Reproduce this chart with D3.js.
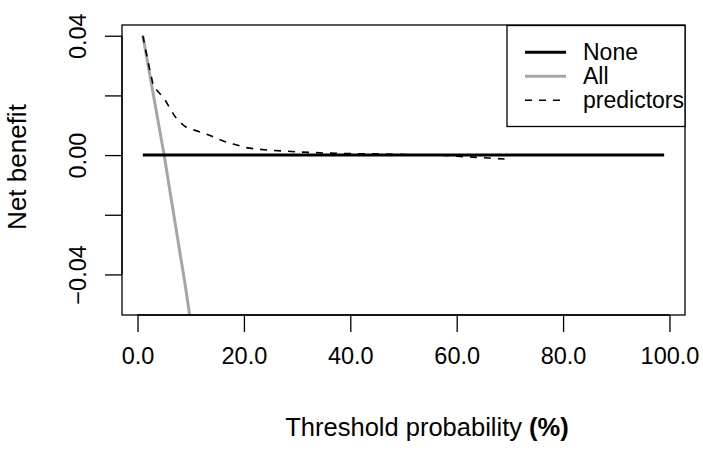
<!DOCTYPE html>
<html>
<head>
<meta charset="utf-8">
<script src="https://cdn.jsdelivr.net/npm/d3@7"></script>
<style>
  body { margin: 0; background: #fff; }
  svg { display: block; font-family: "Liberation Sans", Arial, sans-serif; }
</style>
</head>
<body>
<svg id="chart" width="703" height="456"></svg>
<script>
// thresholds (%) and net benefit values
const noneX = [1, 99];
const noneY = [0, 0];

const allX = [1, 2, 3, 4, 5, 6, 7, 8, 9, 10];
const allY = [0.040, 0.030, 0.020, 0.010, 0.000, -0.011, -0.022, -0.033, -0.044, -0.056];

const predX = [1, 2, 3, 4, 5, 6, 7, 8, 9, 10, 11, 12, 13, 14, 15, 16, 17, 18, 19, 20,
               22, 25, 28, 31, 35, 40, 45, 50, 55, 58, 60, 63, 66, 69];
const predY = [0.040, 0.031, 0.023, 0.021, 0.019, 0.016, 0.013, 0.011, 0.0095, 0.0088,
               0.0082, 0.0076, 0.0070, 0.0063, 0.0055, 0.0048, 0.0042, 0.0037, 0.0032, 0.0026,
               0.0021, 0.0016, 0.0013, 0.0010, 0.0007, 0.0005, 0.0004, 0.0002, 0.0000, -0.0001,
               -0.0004, -0.0007, -0.0010, -0.0013];

const xTicks = [0, 20, 40, 60, 80, 100];
const yTicks = [-0.04, -0.02, 0, 0.02, 0.04];
const yLabelled = [-0.04, 0, 0.04];

const legendNames = ["None", "All", "predictors"];

const svg = d3.select("#chart");
const box = { left: 122, right: 685, top: 25, bottom: 315 };

// R style 4% padding on the ranges
const x = d3.scaleLinear().domain([1 - 3.92, 99 + 3.92]).range([box.left, box.right]);
const y = d3.scaleLinear().domain([-0.05 - 0.0036, 0.04 + 0.0036]).range([box.bottom, box.top]);

svg.append("defs").append("clipPath").attr("id", "plotclip")
  .append("rect")
    .attr("x", box.left).attr("y", box.top)
    .attr("width", box.right - box.left).attr("height", box.bottom - box.top);

const line = d3.line().x(d => x(d[0])).y(d => y(d[1]));
const plot = svg.append("g").attr("clip-path", "url(#plotclip)");

const series = [
  { name: "None", pts: d3.zip(noneX, noneY), color: "#000", width: 3, dash: null },
  { name: "All", pts: d3.zip(allX, allY), color: "#a6a6a6", width: 3, dash: null },
  { name: "predictors", pts: d3.zip(predX, predY), color: "#000", width: 1.6, dash: "7,7" }
];

// draw order: all, none, predictors on top
[series[1], series[0], series[2]].forEach(s => {
  plot.append("path")
    .attr("d", line(s.pts))
    .attr("fill", "none")
    .attr("stroke", s.color)
    .attr("stroke-width", s.width)
    .attr("stroke-dasharray", s.dash);
});

// plot box
svg.append("rect")
  .attr("x", box.left).attr("y", box.top)
  .attr("width", box.right - box.left).attr("height", box.bottom - box.top)
  .attr("fill", "none").attr("stroke", "#000").attr("stroke-width", 1.3);

// x axis
const xAxis = d3.axisBottom(x).tickValues(xTicks).tickSize(17).tickPadding(17)
  .tickFormat(d3.format(".1f"));
const xg = svg.append("g").attr("transform", `translate(0,${box.bottom})`).call(xAxis);
xg.select(".domain").attr("d", `M${x(0)},0H${x(100)}`).attr("stroke-width", 1.3);
xg.selectAll(".tick line").attr("stroke-width", 1.3);
xg.selectAll(".tick text").attr("font-size", 23.5).attr("fill", "#000").attr("dy", "0.71em")
  .attr("y", 32);

// y axis
const yAxis = d3.axisLeft(y).tickValues(yTicks).tickSize(17)
  .tickFormat(d => yLabelled.some(v => Math.abs(v - d) < 1e-9) ? d3.format(".2f")(d).replace("-", "\u2212") : "");
const yg = svg.append("g").attr("transform", `translate(${box.left},0)`).call(yAxis);
yg.select(".domain").attr("d", `M0,${y(-0.04)}V${y(0.04)}`).attr("stroke-width", 1.3);
yg.selectAll(".tick line").attr("stroke-width", 1.3);
yg.selectAll(".tick text")
  .attr("font-size", 23.5).attr("fill", "#000")
  .attr("x", null).attr("dy", null)
  .attr("text-anchor", "middle")
  .attr("transform", "translate(-36,0) rotate(-90)");

// axis titles
const xt = svg.append("text")
  .attr("x", 427).attr("y", 436)
  .attr("text-anchor", "middle").attr("font-size", 25.5)
  .text("Threshold probability ");
xt.append("tspan").attr("font-weight", "bold").text("(%)");

svg.append("text")
  .attr("transform", `translate(26,${(box.top + box.bottom) / 2 - 3}) rotate(-90)`)
  .attr("text-anchor", "middle").attr("font-size", 26)
  .text("Net benefit");

// legend
const lg = svg.append("g");
lg.append("rect")
  .attr("x", 507).attr("y", 25.5).attr("width", 685 - 507).attr("height", 101)
  .attr("fill", "#fff").attr("stroke", "#000").attr("stroke-width", 1.3);

const rows = lg.selectAll("g.row").data(legendNames.map(n => series.find(s => s.name === n)))
  .enter().append("g").attr("class", "row")
  .attr("transform", (d, i) => `translate(0,${52.3 + i * 24})`);
rows.append("line")
  .attr("x1", 525).attr("x2", 566)
  .attr("stroke", d => d.color).attr("stroke-width", d => d.width)
  .attr("stroke-dasharray", d => d.dash);
rows.append("text")
  .attr("x", 583).attr("dy", "0.35em")
  .attr("font-size", 23)
  .text(d => d.name);
</script>
</body>
</html>
